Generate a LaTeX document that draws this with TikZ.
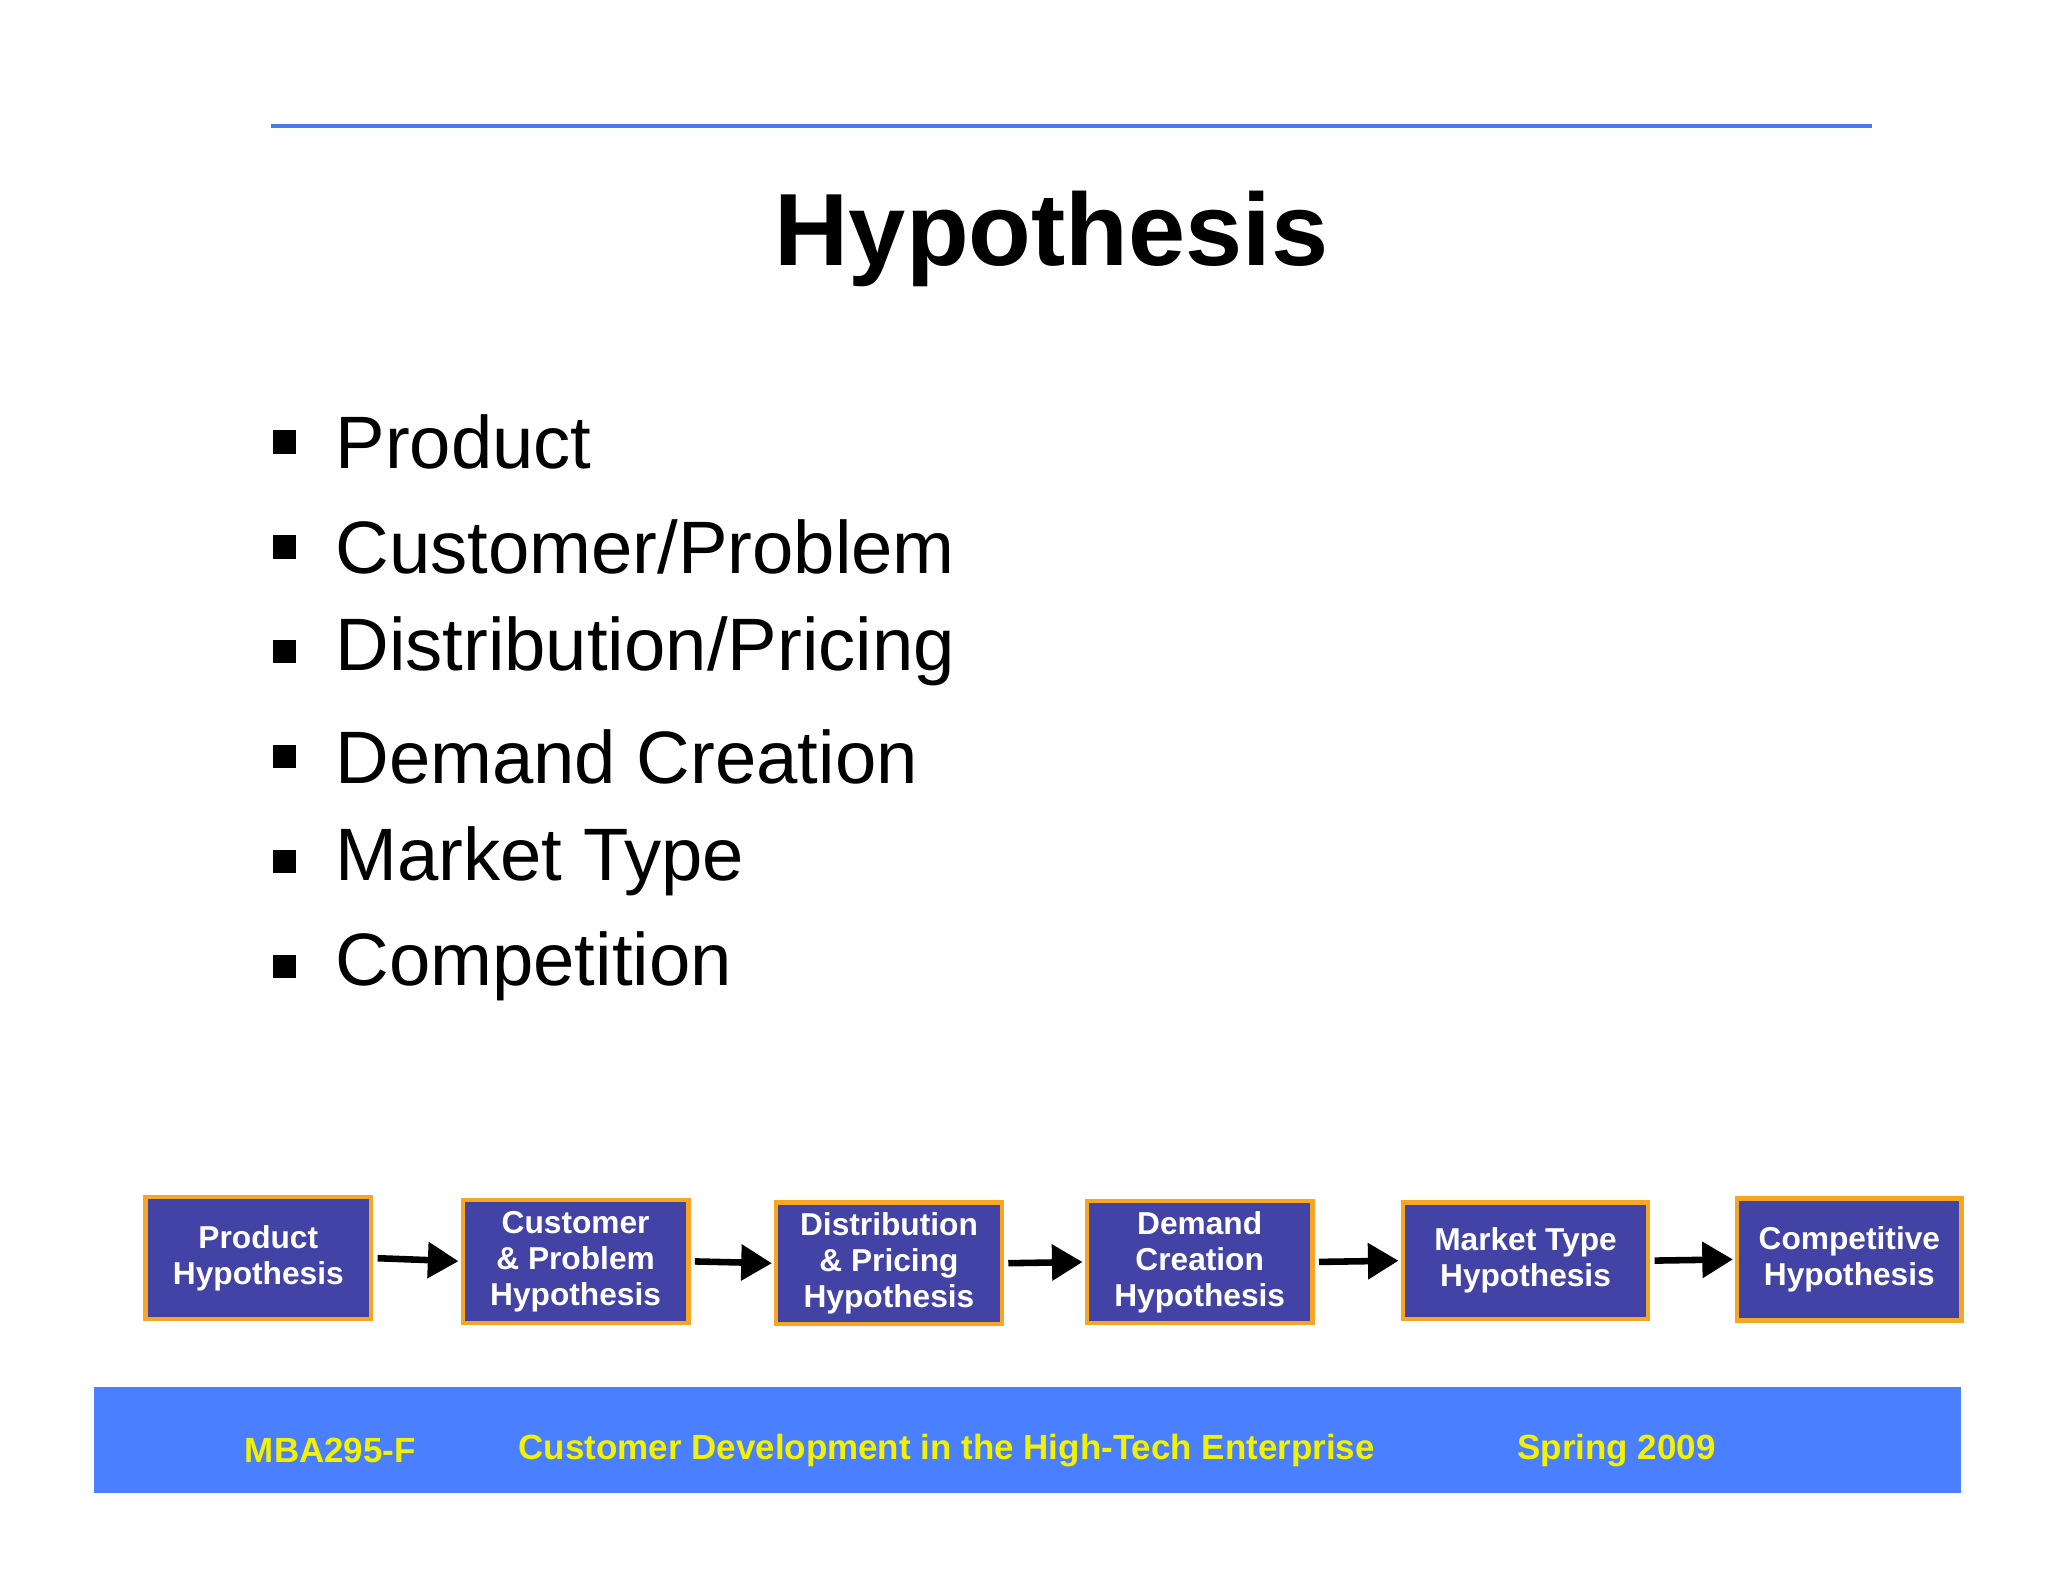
\documentclass[tikz,border=0pt]{standalone}
\usepackage{fontspec}
\setmainfont{Liberation Sans}
\usetikzlibrary{arrows.meta}
\definecolor{boxfill}{HTML}{4343A6}
\definecolor{boxedge}{HTML}{F5A623}
\definecolor{topline}{HTML}{4A7CE8}
\definecolor{footblue}{HTML}{4A80FF}
\definecolor{footyellow}{HTML}{F2F200}
\tikzset{
 hbox/.style={draw=boxedge,line width=2pt,fill=boxfill,text=white,font=\bfseries\fontsize{14.5}{16.5}\selectfont,align=center,inner sep=0pt},
 flow/.style={line width=3pt,-{Triangle[length=14pt,width=16pt]},shorten <=2pt,shorten >=1pt},
 bul/.style={anchor=west,font=\fontsize{34}{40}\selectfont},
 foot/.style={text=footyellow,font=\bfseries\fontsize{16}{18}\selectfont}
}
\begin{document}
\begin{tikzpicture}[x=0.6pt,y=-0.6pt]
\useasboundingbox (0,0) rectangle (1562,1207);
\fill[white] (0,0) rectangle (1562,1207);
\draw[topline,line width=1.8pt] (207,96) -- (1428,96);
\node[font=\bfseries\fontsize{47}{54}\selectfont] (title) at (802,182) {Hypothesis};
\foreach \t [count=\i] in {Product,Customer/Problem,Distribution/Pricing,Demand Creation,Market Type,Competition}{
  \fill (208,{257+80*\i-9}) rectangle (226,{257+80*\i+9});
  \node[bul] (b\i) at (250,{257+80*\i}) {\t};
}
\node[hbox,minimum width=172*0.6pt,minimum height=93*0.6pt] (h1) at (197,959.5) {Product\\Hypothesis};
\node[hbox,minimum width=172*0.6pt,minimum height=94*0.6pt] (h2) at (439,962) {Customer\\\& Problem\\Hypothesis};
\node[hbox,minimum width=172*0.6pt,minimum height=93*0.6pt] (h3) at (678,963.5) {Distribution\\\& Pricing\\Hypothesis};
\node[hbox,minimum width=172*0.6pt,minimum height=93*0.6pt] (h4) at (915,962.5) {Demand\\Creation\\Hypothesis};
\node[hbox,minimum width=187*0.6pt,minimum height=89*0.6pt] (h5) at (1163.5,961.5) {Market Type\\Hypothesis};
\node[hbox,minimum width=171*0.6pt,minimum height=93*0.6pt] (h6) at (1410.5,960.5) {Competitive\\Hypothesis};
\draw[flow] (h1.east) -- (h2.west);
\draw[flow] (h2.east) -- (h3.west);
\draw[flow] (h3.east) -- (h4.west);
\draw[flow] (h4.east) -- (h5.west);
\draw[flow] (h5.east) -- (h6.west);
\fill[footblue] (72,1058) rectangle (1496,1139);
\node[foot] (f1) at (252,1106) {MBA295-F};
\node[foot] (f2) at (722,1106) {Customer Development in the High-Tech Enterprise};
\node[foot] (f3) at (1233,1106) {Spring 2009};
\end{tikzpicture}
\end{document}
